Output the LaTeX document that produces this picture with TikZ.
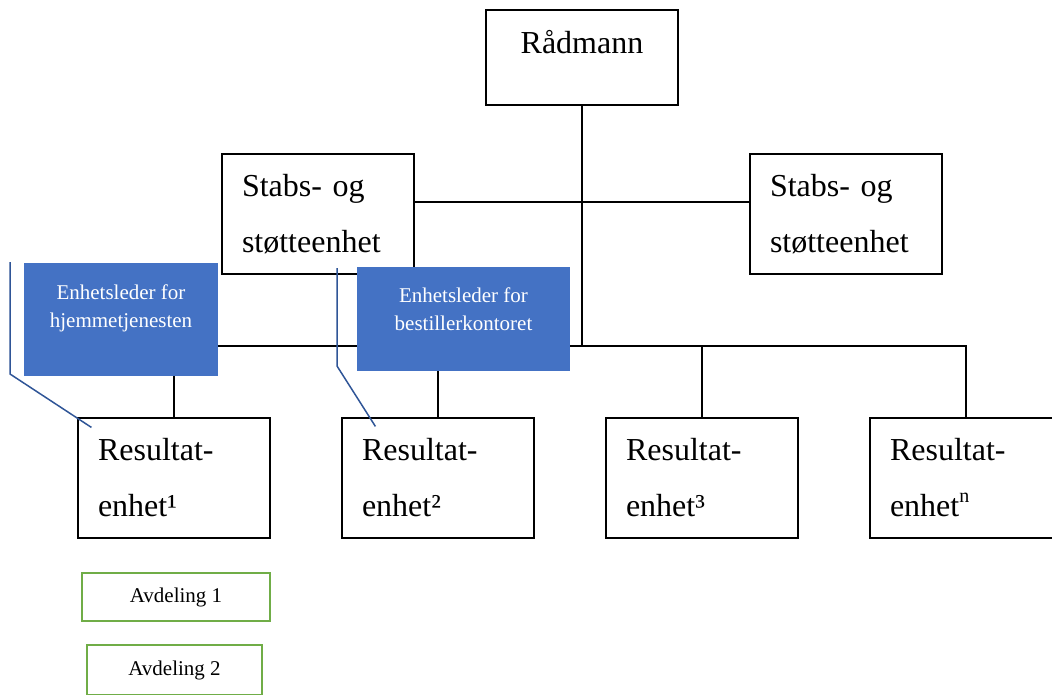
\documentclass[tikz,border=0pt]{standalone}
\usepackage{fontspec}
\setmainfont{Liberation Serif}
\usetikzlibrary{calc}
\definecolor{ledblue}{HTML}{4472C4}
\definecolor{calloutblue}{HTML}{2F5597}
\definecolor{avdgreen}{HTML}{70AD47}
\tikzstyle{orgbox}=[draw, fill=white, line width=1.2pt, minimum width=192pt, minimum height=120pt, inner xsep=20pt, inner ysep=0pt, text width=152pt, align=left, font=\fontsize{32}{56}\selectfont]
\tikzstyle{bigtxt}=[inner sep=0pt, font=\fontsize{32}{56}\selectfont]
\tikzstyle{orgline}=[line width=1.2pt]
\tikzstyle{bluebox}=[fill=ledblue, inner sep=0pt]
\tikzstyle{bluetxt}=[text=white, align=center, inner sep=0pt, font=\fontsize{21}{28}\selectfont]
\tikzstyle{callout}=[draw=calloutblue, line width=1.5pt]
\tikzstyle{avd}=[draw=avdgreen, line width=2pt, fill=white, inner sep=0pt, font=\fontsize{21}{25}\selectfont]

\begin{document}
\begin{tikzpicture}[x=1pt,y=-1pt]
            \useasboundingbox (0,0) rectangle (1052,695);
            % ledelse og stab
            \node[orgbox, minimum height=95pt] (raad) at (582,57.5) {};
            \node[bigtxt] (raadt) at ($(raad.north)+(0,33)$) {Rådmann};
            \node[orgbox] (s1) at (318,214) {Stabs- og\\støtteenhet};
            \node[orgbox] (s2) at (846,214) {Stabs- og\\støtteenhet};
            % resultatenheter
            \node[orgbox] (r1) at (174,478) {Resultat-\\enhet¹};
            \node[orgbox] (r2) at (438,478) {Resultat-\\enhet²};
            \node[orgbox] (r3) at (702,478) {Resultat-\\enhet³};
            \node[orgbox] (r4) at (966,478) {Resultat-\\enhet\raisebox{14pt}{\fontsize{20}{20}\selectfont n}};
            % linjer
            \coordinate (hub) at (582,346);
            \draw[orgline] (raad) -- (hub);
            \draw[orgline] ($(s1.east)+(0,-12)$) -- ($(s2.west)+(0,-12)$);
            \draw[orgline] (hub) -| (r1);
            \draw[orgline] (hub) -| (r2);
            \draw[orgline] (hub) -| (r3);
            \draw[orgline] (hub) -| (r4);
            % enhetsledere
            \node[bluebox, minimum width=194pt, minimum height=113pt] (b1) at (121,319.5) {};
            \node[bluetxt] (b1t) at ($(b1.north)+(0,46)$) {Enhetsleder for\\hjemmetjenesten};
            \node[bluebox, minimum width=213pt, minimum height=104pt] (b2) at (463.5,319) {};
            \node[bluetxt] (b2t) at ($(b2.north)+(0,42)$) {Enhetsleder for\\bestillerkontoret};
            \coordinate (c1a) at (10,262);
            \coordinate (c1b) at (10,374);
            \draw[callout] (c1a) -- (c1b) -- ($(r1.north west)+(14,10)$);
            \coordinate (c2a) at (337,268);
            \coordinate (c2b) at (337,366);
            \draw[callout] (c2a) -- (c2b) -- ($(r2.north west)+(34,9)$);
            % avdelinger
            \node[avd, minimum width=188pt, minimum height=48pt] (a1) at (176,597) {Avdeling 1};
            \node[avd, minimum width=175pt, minimum height=50pt] (a2) at (174.5,670) {Avdeling 2};
\end{tikzpicture}
\end{document}
